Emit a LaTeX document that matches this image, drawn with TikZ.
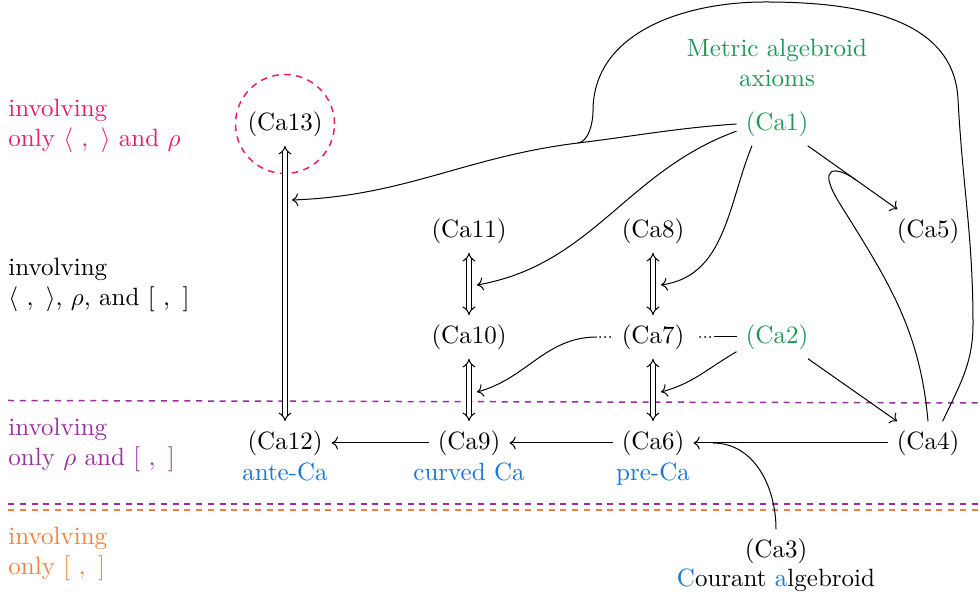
\documentclass[tikz,border=0pt]{standalone}
\usetikzlibrary{arrows.meta}
\definecolor{cpink}{RGB}{232,28,106}
\definecolor{cgreen}{RGB}{30,150,85}
\definecolor{cblue}{RGB}{25,118,210}
\definecolor{cpurple}{RGB}{155,45,160}
\definecolor{corange}{RGB}{245,130,60}
\begin{document}
\begin{tikzpicture}[x=0.4pt,y=0.4pt,
  cd/.style={inner sep=3.5pt},
  lbl/.style={inner sep=0pt, anchor=base, text=cblue},
  side/.style={anchor=north west, inner sep=0pt, align=left},
  imp/.style={double, double distance=1.4pt, {Implies}-{Implies}},
  sep/.style={line width=0.6pt, dash pattern=on 2.4pt off 2.3pt},
  dotseg/.style={line width=0.8pt, line cap=round, dash pattern=on 0pt off 2pt},
]
\useasboundingbox (0,0) rectangle (980,599);

% side labels
\node[side, text=cpink] (Lpink) at (8,500) {involving\\only $\langle\ ,\ \rangle$ and $\rho$};
\node[side] (Lblack) at (8,341) {involving\\$\langle\ ,\ \rangle$, $\rho$, and $[\ ,\ ]$};
\node[side, text=cpurple] (Lpurple) at (8,181) {involving\\only $\rho$ and $[\ ,\ ]$};
\node[side, text=corange] (Lorange) at (8,72) {involving\\only $[\ ,\ ]$};

% separators
\draw[sep, cpurple] (8,198.5) -- (980,196);
\draw[sep, cpurple] (8,95) -- (980,95);
\draw[sep, corange] (8,89) -- (980,89);

% nodes
\node[inner sep=0pt, anchor=north, align=center, text=cgreen] (meta) at (777,560) {Metric algebroid\\axioms};
\node[cd, text=cgreen] (Ca1) at (777,475) {(Ca1)};
\node[cd] (Ca13) at (285,475) {(Ca13)};
\node[cd] (Ca11) at (469,368) {(Ca11)};
\node[cd] (Ca8) at (653,368) {(Ca8)};
\node[cd] (Ca5) at (928,368) {(Ca5)};
\node[cd] (Ca10) at (469,262) {(Ca10)};
\node[cd] (Ca7) at (653,262) {(Ca7)};
\node[cd, text=cgreen] (Ca2) at (777,262) {(Ca2)};
\node[cd] (Ca12) at (285,156) {(Ca12)};
\node[cd] (Ca9) at (469,156) {(Ca9)};
\node[cd] (Ca6) at (653,156) {(Ca6)};
\node[cd] (Ca4) at (928,156) {(Ca4)};
\node[cd] (Ca3) at (776,48) {(Ca3)};
\node[lbl] (l12) at (285,118) {ante-Ca};
\node[lbl] (l9) at (469,118) {curved Ca};
\node[lbl] (l6) at (653,118) {pre-Ca};
\node[inner sep=0pt, anchor=base] (l3) at (776,12) {{\color{cblue}C}ourant {\color{cblue}a}lgebroid};

% dashed circle
\draw[cpink, line width=0.6pt, dash pattern=on 2.6pt off 2.2pt] (Ca13.center) circle[radius=49.5];

% double arrows
\draw[imp] (Ca13) -- (Ca12);
\draw[imp] (Ca11) -- (Ca10);
\draw[imp] (Ca10) -- (Ca9);
\draw[imp] (Ca8) -- (Ca7);
\draw[imp] (Ca7) -- (Ca6);

% targets on double arrows
\coordinate (t13) at (292,399);
\coordinate (t1110) at (477,314);
\coordinate (t109) at (477,207);
\coordinate (t87) at (661,314);
\coordinate (t76) at (661,207);
\coordinate (j) at (578,456);
\coordinate (d1) at (714,262);
\coordinate (e7e) at (700,262);
\coordinate (e7w) at (610,262);
\coordinate (d2) at (597,262);

% single arrows
\draw[->] (Ca1) -- (Ca5) coordinate[pos=0.53] (m15);
\draw[->] (Ca2) -- (Ca4);
\draw[->] (Ca4) -- (Ca6) coordinate[pos=0.9] (m46);
\draw[->] (Ca6) -- (Ca9);
\draw[->] (Ca9) -- (Ca12);
\draw (Ca3.north) to[out=90,in=0] (m46);

\draw[->] (Ca1.west) to[out=184,in=7] (j) to[out=187,in=2] (t13);
\draw (Ca4.56) to[out=65,in=-90] (973,275) to[out=90,in=-87] (958,500)
  to[out=93,in=0] (765,597) to[out=180,in=90] (593,488)
  to[out=-90,in=7,looseness=0.8] (j);
\draw (Ca4.north) to[out=95,in=-58] (840,395) .. controls (815,435) and (837,432.5) .. (m15);

\draw[->] (Ca1.190) to[out=200,in=10] (t1110);
\draw[->] (Ca1.221) to[out=248,in=8] (t87);
\draw[->] (Ca2.200) to[out=210,in=15] (t76);

\draw (Ca2.west) -- (d1);
\draw[dotseg] (e7e) -- (d1);
\draw[dotseg] (e7w) -- (d2);
\draw[->] (d2) to[out=180,in=15] (t109);
\end{tikzpicture}
\end{document}
